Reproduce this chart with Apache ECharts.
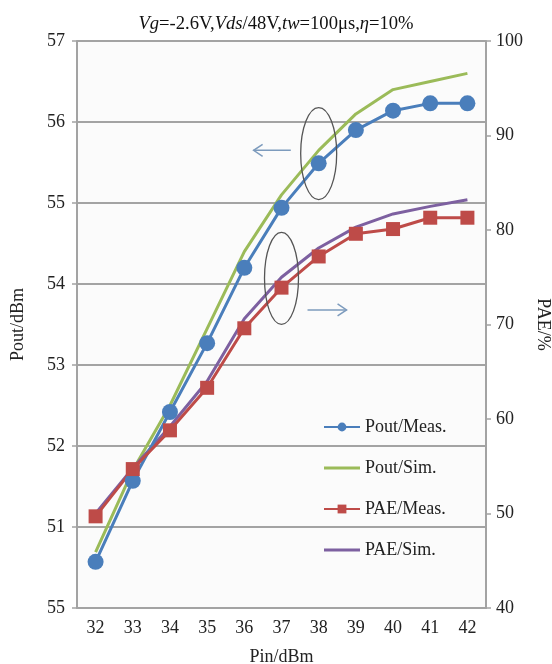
<!DOCTYPE html>
<html><head><meta charset="utf-8">
<script src="https://cdn.jsdelivr.net/npm/echarts@6/dist/echarts.min.js"></script>
<style>html,body{margin:0;padding:0;background:#fff}#c{width:552px;height:664px}</style>
</head><body><div id="c"></div>
<script>
var categories = ['32','33','34','35','36','37','38','39','40','41','42'];
var poutMeas = [50.57, 51.57, 52.42, 53.27, 54.2, 54.94, 55.49, 55.9, 56.14, 56.23, 56.23];
var poutSim  = [50.69, 51.7, 52.5, 53.45, 54.4, 55.1, 55.65, 56.1, 56.4, 56.5, 56.6];
var paeMeas  = [49.7, 54.7, 58.8, 63.3, 69.6, 73.9, 77.2, 79.6, 80.1, 81.3, 81.3];
var paeSim   = [50.0, 54.8, 59.2, 64.0, 70.6, 75.0, 78.1, 80.3, 81.7, 82.5, 83.2];
var leftTickLabels = {50:'55', 51:'51', 52:'52', 53:'53', 54:'54', 55:'55', 56:'56', 57:'57'};

var FONT = 'Liberation Serif';
var GRAY = '#a3a3a3';
var FS = 18;
var lineIcon = 'path://M0,0L36,0L36,3L0,3Z';
var chart = echarts.init(document.getElementById('c'));
var option = {
  backgroundColor: '#ffffff',
  animation: false,
  title: {
    left: 'center', top: 10,
    text: '{i|Vg}{n|=-2.6V,}{i|Vds}{n|/48V,}{i|tw}{n|=100μs,}{i|η}{n|=10%}',
    textStyle: {
      fontWeight: 'normal',
      rich: {
        i: {fontFamily: FONT, fontSize: 18.6, fontStyle: 'italic', fontWeight: 'normal', color: '#111'},
        n: {fontFamily: FONT, fontSize: 18.6, fontWeight: 'normal', color: '#111'}
      }
    }
  },
  grid: {left: 77, right: 66, top: 41, bottom: 56, show: true, backgroundColor: '#fbfbfb', borderWidth: 0,
         containLabel: false, outerBoundsMode: 'none'},
  legend: {
    orient: 'vertical', left: 318, top: 413, itemWidth: 36, itemHeight: 11, itemGap: 23,
    textStyle: {fontFamily: FONT, fontSize: FS, color: '#222'},
    data: [
      {name: 'Pout/Meas.'},
      {name: 'Pout/Sim.', icon: lineIcon},
      {name: 'PAE/Meas.'},
      {name: 'PAE/Sim.', icon: lineIcon}
    ]
  },
  xAxis: {
    type: 'category', data: categories, boundaryGap: true,
    axisLine: {lineStyle: {color: GRAY, width: 2}},
    axisTick: {show: false},
    axisLabel: {fontFamily: FONT, fontSize: FS, color: '#222', margin: 11},
    name: 'Pin/dBm', nameLocation: 'middle', nameGap: 40,
    nameTextStyle: {fontFamily: FONT, fontSize: FS, color: '#222'}
  },
  yAxis: [{
    type: 'value', min: 50, max: 57, interval: 1, position: 'left',
    axisLine: {show: true, lineStyle: {color: GRAY, width: 2}},
    axisTick: {show: true, length: 5, lineStyle: {color: GRAY, width: 1.5}},
    splitLine: {show: true, lineStyle: {color: GRAY, width: 2}},
    axisLabel: {fontFamily: FONT, fontSize: FS, color: '#222', margin: 12,
      formatter: function (v) { return leftTickLabels[v]; }},
    name: 'Pout/dBm', nameLocation: 'middle', nameGap: 50, nameRotate: 90,
    nameTextStyle: {fontFamily: FONT, fontSize: FS, color: '#222'}
  }, {
    type: 'value', min: 40, max: 100, interval: 10, position: 'right',
    axisLine: {show: true, lineStyle: {color: GRAY, width: 2}},
    axisTick: {show: true, length: 5, lineStyle: {color: GRAY, width: 1.5}},
    splitLine: {show: false},
    axisLabel: {fontFamily: FONT, fontSize: FS, color: '#222', margin: 10},
    name: 'PAE/%', nameLocation: 'middle', nameGap: 47, nameRotate: -90,
    nameTextStyle: {fontFamily: FONT, fontSize: FS, color: '#222'}
  }],
  series: [{
    name: 'Pout/Meas.', type: 'line', yAxisIndex: 0, data: poutMeas,
    symbol: 'circle', symbolSize: 16, showAllSymbol: true,
    lineStyle: {color: '#4a7ebb', width: 3}, itemStyle: {color: '#4a7ebb'}, z: 5
  }, {
    name: 'Pout/Sim.', type: 'line', yAxisIndex: 0, data: poutSim,
    symbol: 'none', lineStyle: {color: '#9bbb59', width: 3}, itemStyle: {color: '#9bbb59'}, z: 3
  }, {
    name: 'PAE/Meas.', type: 'line', yAxisIndex: 1, data: paeMeas,
    symbol: 'rect', symbolSize: 14, showAllSymbol: true,
    lineStyle: {color: '#be4b48', width: 3}, itemStyle: {color: '#be4b48'}, z: 5
  }, {
    name: 'PAE/Sim.', type: 'line', yAxisIndex: 1, data: paeSim,
    symbol: 'none', lineStyle: {color: '#7d60a0', width: 3}, itemStyle: {color: '#7d60a0'}, z: 3
  }]
};
chart.setOption(option);

// annotations positioned in data space
function px(idx, val) {
  var a = chart.convertToPixel({xAxisIndex: 0, yAxisIndex: 0}, [0, val]);
  var b = chart.convertToPixel({xAxisIndex: 0, yAxisIndex: 0}, [1, val]);
  return [a[0] + (b[0] - a[0]) * idx, a[1]];
}
var e1 = px(6.0, 55.61), e2 = px(5.0, 54.07);
var a1s = px(5.25, 55.65), a1e = px(4.25, 55.65);
var a2s = px(5.7, 53.68), a2e = px(6.75, 53.68);
var ac = '#7d9bbd';
chart.setOption({
  graphic: [
    {type: 'ellipse', shape: {cx: e1[0], cy: e1[1], rx: 18, ry: 46}, style: {fill: null, stroke: '#555', lineWidth: 1.3}, z: 10},
    {type: 'ellipse', shape: {cx: e2[0], cy: e2[1], rx: 17, ry: 46}, style: {fill: null, stroke: '#555', lineWidth: 1.3}, z: 10},
    {type: 'line', shape: {x1: a1s[0], y1: a1s[1], x2: a1e[0], y2: a1e[1]}, style: {stroke: ac, lineWidth: 1.5}, z: 10},
    {type: 'polyline', shape: {points: [[a1e[0] + 9, a1e[1] - 6], [a1e[0], a1e[1]], [a1e[0] + 9, a1e[1] + 6]]}, style: {stroke: ac, lineWidth: 1.5, fill: null}, z: 10},
    {type: 'line', shape: {x1: a2s[0], y1: a2s[1], x2: a2e[0], y2: a2e[1]}, style: {stroke: ac, lineWidth: 1.5}, z: 10},
    {type: 'polyline', shape: {points: [[a2e[0] - 9, a2e[1] - 6], [a2e[0], a2e[1]], [a2e[0] - 9, a2e[1] + 6]]}, style: {stroke: ac, lineWidth: 1.5, fill: null}, z: 10}
  ]
});
</script></body></html>
